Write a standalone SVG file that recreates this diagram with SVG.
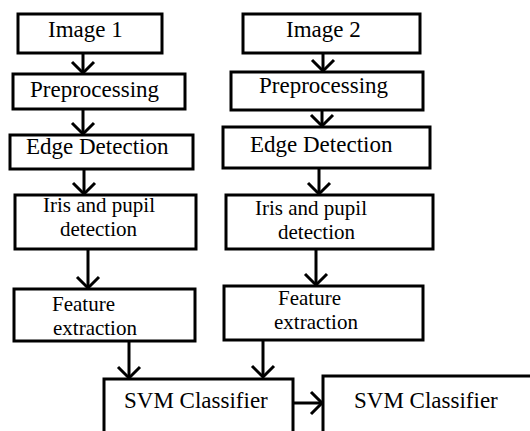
<svg xmlns="http://www.w3.org/2000/svg" width="530" height="431" viewBox="0 0 530 431">
<style>
.box{fill:#fff;stroke:#000;stroke-width:3}
.c{stroke:#000;stroke-width:3;fill:none}
</style>
<defs>
<marker id="ah" markerUnits="userSpaceOnUse" markerWidth="30" markerHeight="30" viewBox="-15 -15 30 30" refX="0" refY="0" orient="auto">
<path d="M-11,-11 L0,0 L-11,11" fill="none" stroke="#000" stroke-width="3"/>
</marker>
</defs>
<rect width="530" height="431" fill="#fff"/>
<g id="connectors">
<line class="c" x1="83" y1="53" x2="83" y2="73" marker-end="url(#ah)"/>
<line class="c" x1="83" y1="109" x2="83" y2="134" marker-end="url(#ah)"/>
<line class="c" x1="84" y1="169" x2="84" y2="194" marker-end="url(#ah)"/>
<line class="c" x1="88" y1="249" x2="88" y2="288" marker-end="url(#ah)"/>
<line class="c" x1="129" y1="341" x2="129" y2="378" marker-end="url(#ah)"/>
<line class="c" x1="323" y1="53" x2="323" y2="71" marker-end="url(#ah)"/>
<line class="c" x1="322" y1="110" x2="322" y2="126" marker-end="url(#ah)"/>
<line class="c" x1="319" y1="168" x2="319" y2="194" marker-end="url(#ah)"/>
<line class="c" x1="316" y1="249" x2="316" y2="285" marker-end="url(#ah)"/>
<line class="c" x1="263" y1="340" x2="263" y2="377" marker-end="url(#ah)"/>
<line class="c" x1="293" y1="403" x2="322" y2="403" marker-end="url(#ah)"/>
</g>
<g id="image1"><rect class="box" x="18" y="14" width="144" height="39"/><text x="48" y="37" font-family="Liberation Serif, serif" font-size="23">Image 1</text></g>
<g id="prep1"><rect class="box" x="13" y="74" width="172" height="35"/><text x="30" y="97" font-family="Liberation Serif, serif" font-size="23">Preprocessing</text></g>
<g id="edge1"><rect class="box" x="10" y="135" width="183" height="34"/><text x="26" y="154" font-family="Liberation Serif, serif" font-size="23">Edge Detection</text></g>
<g id="iris1"><rect class="box" x="15" y="195" width="181" height="54"/><text x="43" y="212" font-family="Liberation Serif, serif" font-size="21">Iris and pupil</text><text x="60" y="236" font-family="Liberation Serif, serif" font-size="21">detection</text></g>
<g id="feat1"><rect class="box" x="14" y="289" width="181" height="52"/><text x="52" y="311" font-family="Liberation Serif, serif" font-size="21">Feature</text><text x="53" y="335" font-family="Liberation Serif, serif" font-size="21">extraction</text></g>
<g id="image2"><rect class="box" x="243" y="14" width="177" height="39"/><text x="286" y="37" font-family="Liberation Serif, serif" font-size="23">Image 2</text></g>
<g id="prep2"><rect class="box" x="231" y="72" width="192" height="38"/><text x="259" y="93" font-family="Liberation Serif, serif" font-size="23">Preprocessing</text></g>
<g id="edge2"><rect class="box" x="223" y="127" width="207" height="41"/><text x="250" y="152" font-family="Liberation Serif, serif" font-size="23">Edge Detection</text></g>
<g id="iris2"><rect class="box" x="226" y="195" width="207" height="54"/><text x="255" y="215" font-family="Liberation Serif, serif" font-size="21">Iris and pupil</text><text x="278" y="239" font-family="Liberation Serif, serif" font-size="21">detection</text></g>
<g id="feat2"><rect class="box" x="224" y="286" width="199" height="54"/><text x="278" y="305" font-family="Liberation Serif, serif" font-size="21">Feature</text><text x="274" y="329" font-family="Liberation Serif, serif" font-size="21">extraction</text></g>
<g id="svm1"><rect class="box" x="104" y="379" width="189" height="70"/><text x="124" y="408" font-family="Liberation Serif, serif" font-size="23">SVM Classifier</text></g>
<g id="svm2"><rect class="box" x="323" y="376" width="215" height="70"/><text x="354" y="408" font-family="Liberation Serif, serif" font-size="23">SVM Classifier</text></g>
</svg>
